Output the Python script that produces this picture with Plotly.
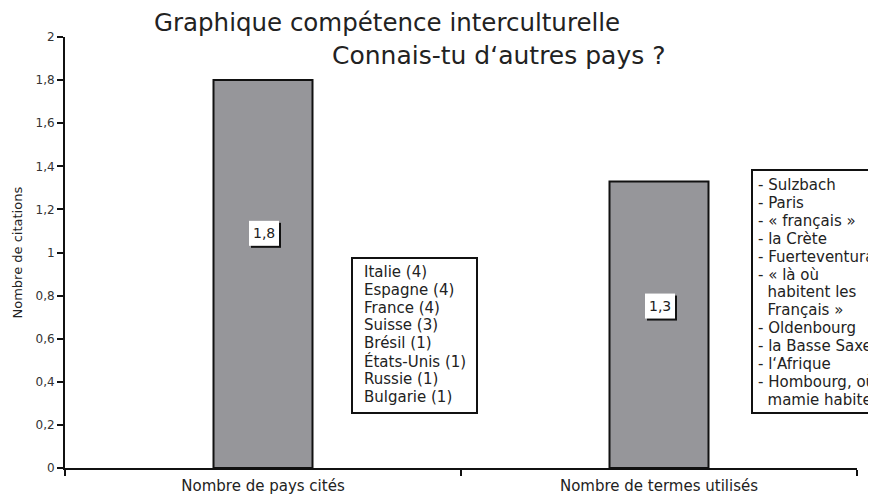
import plotly.graph_objects as go

# ---- data ----
categories = ["Nombre de pays cités", "Nombre de termes utilisés"]
values = [1.8, 1.33]
value_labels = ["1,8", "1,3"]
y_ticks = [0, 0.2, 0.4, 0.6, 0.8, 1, 1.2, 1.4, 1.6, 1.8, 2]
countries = ["Italie (4)", "Espagne (4)", "France (4)", "Suisse (3)", "Brésil (1)",
             "États-Unis (1)", "Russie (1)", "Bulgarie (1)"]
terms = ["- Sulzbach", "- Paris", "- « français »", "- la Crète", "- Fuerteventura",
         "- « là où", "\u00a0\u00a0habitent les", "\u00a0\u00a0Français »", "- Oldenbourg",
         "- la Basse Saxe", "- l‘Afrique", "- Hombourg, où", "\u00a0\u00a0mamie habite"]
title_line1 = "Graphique compétence interculturelle"
title_line2 = "Connais-tu d‘autres pays ?"
y_title = "Nombre de citations"

# ---- layout geometry (page pixels; the page body has an 8px margin) ----
W, H = 876, 494
OFF = 8
PX0, PX1, PY0, PY1 = 65, 857, 37, 468   # plot area on the page
L, T = PX0 - OFF, PY0 - OFF
R, B = W - (PX1 - OFF), H - (PY1 - OFF)

def px(x):
    return (x - PX0) / (PX1 - PX0)

def py(y):
    return (PY1 - y) / (PY1 - PY0)

FONT = "DejaVu Sans, Verdana, sans-serif"
TXT = "#222"

fig = go.Figure()
fig.add_trace(go.Bar(
    x=categories, y=values, width=0.25,
    marker=dict(color="#96969a", line=dict(color="#111", width=2)),
    showlegend=False, hoverinfo="skip",
))

annotations = []
shapes = []
label_frac = [0.605, 0.565]
for i, (v, lab, f) in enumerate(zip(values, value_labels, label_frac)):
    yl = v * f
    # drop shadow and white label box, sized in pixels around the label anchor
    shapes.append(dict(type="rect", xref="x", yref="y", xsizemode="pixel", ysizemode="pixel",
                       xanchor=i, yanchor=yl, x0=-12, x1=18, y0=-14.5, y1=10.5,
                       line=dict(width=0), fillcolor="#111", layer="above"))
    shapes.append(dict(type="rect", xref="x", yref="y", xsizemode="pixel", ysizemode="pixel",
                       xanchor=i, yanchor=yl, x0=-14, x1=16, y0=-12.5, y1=12.5,
                       line=dict(width=0), fillcolor="white", layer="above"))
    annotations.append(dict(x=i, y=yl, xref="x", yref="y", text=lab, showarrow=False,
                            xshift=1, font=dict(family=FONT, size=14, color=TXT)))

# titles
annotations.append(dict(x=px(152), y=py(23), xref="paper", yref="paper", text=title_line1,
                        showarrow=False, xanchor="left", yanchor="middle",
                        font=dict(family=FONT, size=24.5, color=TXT)))
annotations.append(dict(x=px(330), y=py(55), xref="paper", yref="paper", text=title_line2,
                        showarrow=False, xanchor="left", yanchor="middle",
                        font=dict(family=FONT, size=25, color=TXT)))

# y-axis title
annotations.append(dict(x=px(17), y=0.5, xref="paper", yref="paper", text=y_title,
                        showarrow=False, textangle=-90, xanchor="center", yanchor="middle",
                        font=dict(family=FONT, size=13, color=TXT)))

# text boxes, one line at a time
def add_lines(lines, x_left, y_first, step):
    for k, line in enumerate(lines):
        annotations.append(dict(x=px(x_left), y=py(y_first + k * step), xref="paper", yref="paper",
                                text=line, showarrow=False, xanchor="left", yanchor="middle",
                                font=dict(family=FONT, size=15, color=TXT)))

add_lines(countries, 362, 272, 17.8)
add_lines(terms, 756, 185, 17.9)

shapes += [
    dict(type="rect", xref="paper", yref="paper", x0=px(352), x1=px(477), y0=py(413), y1=py(258),
         line=dict(color="#111", width=2), fillcolor="white", layer="below"),
    dict(type="rect", xref="paper", yref="paper", x0=px(752), x1=px(910), y0=py(413), y1=py(170),
         line=dict(color="#111", width=2), fillcolor="white", layer="below"),
]

fig.update_layout(
    width=W, height=H,
    margin=dict(l=L, r=R, t=T, b=B, autoexpand=False),
    paper_bgcolor="white", plot_bgcolor="white",
    separators=", ",
    font=dict(family=FONT, color=TXT),
    annotations=annotations,
    shapes=shapes,
)
fig.update_xaxes(
    type="category", range=[-0.5, 1.5], showgrid=False, automargin=False,
    showline=True, linecolor="#111", linewidth=2,
    ticks="outside", tickson="boundaries", ticklen=6, tickwidth=2, tickcolor="#111",
    tickfont=dict(family=FONT, size=15, color=TXT),
    ticklabelstandoff=3,
)
fig.update_yaxes(
    range=[0, 2], tickvals=y_ticks, showgrid=False, zeroline=False, automargin=False,
    showline=True, linecolor="#111", linewidth=2,
    ticks="outside", ticklen=6, tickwidth=2, tickcolor="#111",
    tickfont=dict(family=FONT, size=12, color="#333"),
)

fig.write_html("out.html")
